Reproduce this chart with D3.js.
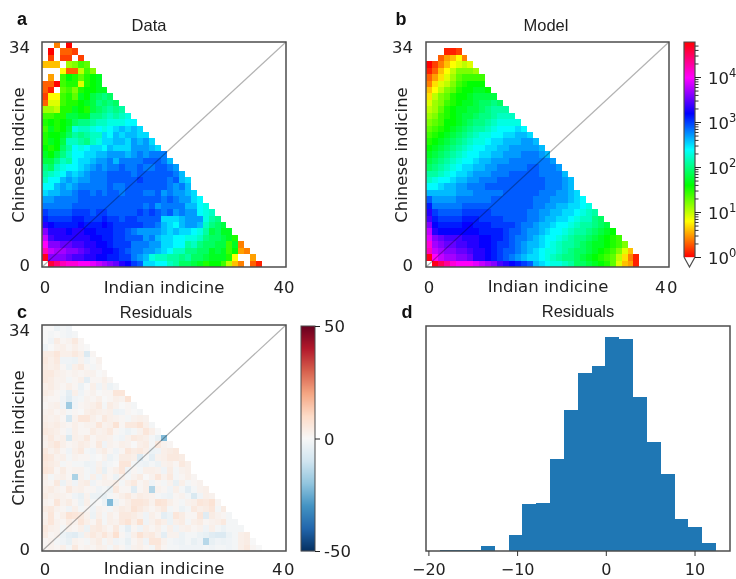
<!DOCTYPE html>
<html>
<head>
<meta charset="utf-8">
<script src="https://cdn.jsdelivr.net/npm/d3@7"></script>
<style>
  html, body { margin: 0; padding: 0; background: #fff; }
  svg { display: block; filter: blur(0.6px); }
  .tick-text { font-family: 'DejaVu Sans', sans-serif; font-size: 16.5px; fill: #222; }
  .hist-tick { font-family: 'DejaVu Sans', sans-serif; font-size: 16px; fill: #222; }
  .title { font-family: 'Liberation Sans', sans-serif; font-size: 16.5px; fill: #222; }
  .letter { font-family: 'Liberation Sans', sans-serif; font-size: 18px; font-weight: bold; fill: #111; }
</style>
</head>
<body>
<div id="chart"></div>
<script>
// rows run from the top of the plot (Chinese indicine 34) down to 0
// heat values are 10*log10(count), -1 means below the colour range (white)
const dataRows = [
  [-1,-1,4,-1,0],
  [-1,0,-1,3,3,2],
  [-1,2,-1,2,2,-1,2],
  [6,6,6,-1,11,12,14,13],
  [-1,-1,-1,8,3,3,10,14,12],
  [-1,5,-1,14,16,15,13,15,16,17],
  [3,3,0,14,15,15,9,15,16,17],
  [3,1,-1,13,14,12,15,16,16,17,17],
  [2,8,8,14,15,13,17,16,18,19,20,19],
  [3,9,9,14,15,15,16,17,18,20,19,20,19],
  [11,11,10,15,15,17,16,15,18,19,20,21,20,21],
  [14,14,15,15,18,18,17,17,20,20,21,22,21,22,23],
  [15,16,15,16,17,19,20,20,21,22,22,23,23,23,24,24],
  [14,17,15,16,18,23,22,22,23,24,23,24,25,26,25,26,25],
  [15,16,16,17,19,21,20,21,22,22,25,24,26,25,26,26,25,25],
  [15,17,16,18,22,22,21,20,22,23,25,25,26,26,25,27,26,27,25],
  [16,15,16,19,21,24,23,24,25,25,24,26,25,25,25,27,27,27,26,25],
  [17,16,18,20,22,24,24,25,25,26,26,27,27,27,26,27,28,27,28,28,28],
  [18,18,20,22,21,24,25,25,26,27,27,28,26,28,28,28,28,29,29,29,28,26],
  [20,19,22,23,24,24,25,26,27,28,27,28,28,29,28,28,29,28,28,29,29,28,27],
  [21,22,23,24,26,25,26,27,28,28,28,29,29,29,29,28,29,29,29,29,29,29,28,26],
  [22,24,24,26,27,26,27,27,28,28,28,29,29,29,29,29,30,29,29,29,29,28,29,26,25],
  [24,24,26,27,26,27,28,28,28,28,28,29,28,28,29,29,29,29,29,29,29,28,27,28,26],
  [25,26,26,27,27,28,29,29,28,29,28,29,29,28,29,29,29,28,28,29,27,28,27,27,26,25],
  [27,27,28,28,28,28,29,29,29,29,29,29,29,29,29,29,29,29,29,29,28,29,28,27,27,25,24],
  [28,28,28,28,28,29,29,29,29,29,29,29,29,29,29,29,29,28,29,27,28,28,28,28,26,26,24,23],
  [30,29,29,29,29,30,30,30,29,30,30,29,29,29,29,29,30,29,30,29,28,29,27,28,27,27,24,23,22],
  [31,30,30,30,30,31,31,30,30,30,31,30,30,29,30,30,29,29,29,29,25,25,25,26,27,27,27,23,21,20],
  [33,32,31,31,31,31,32,31,31,31,32,31,30,30,30,30,30,29,29,28,26,25,24,26,27,27,26,22,20,19,18],
  [36,33,33,33,32,33,33,32,32,31,31,31,30,30,29,28,27,27,27,27,26,25,26,25,25,24,23,21,18,19,17,17],
  [38,34,33,33,33,33,33,33,32,32,31,31,30,30,29,29,29,27,28,26,25,25,24,24,23,23,22,20,19,19,18,17,15],
  [40,36,36,35,35,34,34,33,33,32,32,31,30,30,30,28,28,28,27,27,25,25,24,24,21,22,20,19,19,18,18,14,17,4],
  [42,38,37,37,36,36,35,34,33,33,32,32,31,30,29,28,28,27,27,26,25,24,22,22,20,20,19,19,17,18,17,14,16,5,4],
  [47,36,36,36,35,34,34,33,33,32,32,31,31,30,30,28,27,26,23,22,22,21,21,20,21,19,19,18,17,17,17,15,8,-1,-1,5],
  [-1,46,44,42,41,41,40,40,39,38,37,36,35,33,32,30,29,25,25,24,24,22,21,19,19,18,17,15,16,16,14,10,6,4,-1,3,1]
];

const modelRows = [
  [],
  [-1,-1,-1,1,1,2],
  [-1,-1,3,5,6,8,4],
  [0,2,4,6,8,9,10,9],
  [1,3,6,8,10,12,12,12,11],
  [3,5,7,9,11,13,14,14,14,14],
  [4,7,9,10,12,14,15,16,16,16],
  [6,8,10,12,13,15,16,16,17,17,16],
  [7,10,12,13,15,16,16,17,18,18,18,18],
  [9,11,12,14,15,16,17,17,18,19,19,20,19],
  [10,11,13,15,16,17,17,18,18,19,20,21,21,21],
  [11,12,14,15,16,17,18,18,19,20,20,21,22,22,22],
  [12,13,14,16,16,17,18,19,20,20,21,22,23,23,23,23],
  [13,14,15,16,17,18,19,20,21,21,22,23,24,24,24,25,24],
  [14,15,16,17,18,19,20,21,22,23,23,24,24,25,25,26,26,25],
  [15,16,17,18,19,20,21,22,23,23,24,25,25,26,26,26,27,27,26],
  [16,17,18,19,20,21,22,23,24,24,25,25,26,26,27,27,27,27,27,26],
  [17,18,19,20,21,22,23,24,24,25,25,26,26,27,27,27,28,28,28,27,26],
  [18,19,20,21,22,23,24,24,25,26,26,27,27,27,28,28,28,28,28,28,28,27],
  [19,20,21,22,23,24,25,25,26,26,27,27,28,28,28,28,28,29,29,28,28,28,27],
  [21,21,22,23,24,25,25,26,27,27,27,28,28,28,29,29,29,29,29,28,28,28,28,26],
  [22,23,24,24,25,26,26,27,27,28,28,28,29,29,29,29,29,29,29,29,28,28,28,27,26],
  [24,24,25,26,26,27,27,28,28,28,29,29,29,29,29,29,29,29,29,29,28,28,28,27,26],
  [26,26,26,26,26,27,27,27,28,28,28,28,28,29,29,29,29,29,29,28,28,28,27,27,26,25],
  [29,27,27,27,27,28,28,28,28,28,28,29,29,29,29,29,29,29,28,28,28,27,27,27,26,25,24],
  [31,28,28,28,28,28,29,29,29,29,29,29,29,29,29,29,29,29,28,28,27,27,26,26,25,25,24,23],
  [33,30,29,29,29,29,30,30,30,30,30,29,29,29,29,29,29,28,28,27,27,26,26,25,25,24,23,22,21],
  [34,31,30,30,30,30,31,31,31,30,30,30,30,29,29,29,29,28,28,27,26,26,25,25,24,23,22,22,20,19],
  [36,32,31,31,31,31,32,32,31,31,31,30,30,30,30,29,28,28,27,26,26,25,24,24,23,22,21,21,20,19,18],
  [38,33,32,32,32,32,32,32,32,31,31,31,31,30,29,29,28,27,27,26,25,24,24,23,22,21,21,20,19,18,17,16],
  [39,36,35,34,34,34,33,33,33,32,32,31,31,30,29,28,28,27,26,25,24,24,23,22,21,20,20,19,18,17,16,15,14],
  [41,37,36,35,35,34,34,33,33,32,32,31,30,30,29,28,27,26,26,25,24,23,22,21,21,20,19,18,17,17,16,15,14,12],
  [42,38,37,36,36,35,35,34,33,33,32,31,30,29,29,28,27,26,25,24,23,23,22,21,20,19,19,18,17,16,15,14,12,9,6],
  [47,40,38,37,37,36,36,35,33,33,32,31,30,29,28,27,26,25,25,24,23,22,21,20,20,19,18,17,16,15,14,13,10,7,4,1],
  [-1,47,45,43,41,40,40,40,39,38,37,36,34,33,32,31,30,29,26,25,24,23,23,22,21,19,19,18,17,16,15,13,9,6,5,1]
];

const residualRows = [
  [0,0,-3,-1,-2],
  [0,-1,0,-1,-2,-1],
  [0,-2,4,1,2,5,1],
  [-2,0,2,3,1,3,1,0],
  [4,4,6,3,3,5,3,-7,1],
  [5,3,5,-2,-2,-3,2,-2,0,2],
  [4,3,4,1,-3,3,5,1,-1,1],
  [5,5,3,2,1,2,1,2,2,0,1],
  [5,4,2,2,-1,1,3,-5,1,1,3,1],
  [3,4,2,1,3,1,-3,0,3,-2,2,-3,-1],
  [4,3,1,-1,-5,3,-2,1,2,0,1,1,6,6],
  [2,1,1,-2,-6,-2,-1,2,1,3,0,1,3,2,7],
  [1,2,3,-2,-18,-2,1,2,3,5,-1,4,2,0,1,-1],
  [2,3,1,2,-1,1,0,3,4,3,2,3,-3,-2,1,0,-1],
  [3,2,3,1,-9,2,6,6,3,1,5,3,2,1,-1,2,3,2],
  [4,3,4,2,1,3,1,2,2,6,2,3,7,1,5,5,7,3,-1],
  [5,4,3,1,-2,3,1,1,4,2,3,5,1,-1,-3,-1,2,6,3,0],
  [3,5,2,3,-8,3,2,5,1,3,3,2,-1,-2,2,5,4,3,-1,-4,-22],
  [2,4,6,3,1,2,4,3,1,5,-2,2,1,3,2,0,3,4,-1,5,2,1],
  [5,2,4,1,-2,3,5,-1,-2,2,4,1,-2,1,6,4,5,3,-3,-2,3,4,5],
  [6,5,2,3,-1,2,1,1,-1,0,2,-3,-1,4,4,3,-7,-1,-5,2,3,5,5,4],
  [5,4,3,-1,1,-1,-1,-3,-2,2,-2,-1,0,6,6,-1,-2,-3,-1,-3,2,3,1,5,3],
  [6,5,1,4,1,2,2,-1,-2,3,-4,1,3,6,-2,1,-1,3,3,2,-2,4,-1,2,3],
  [3,-1,2,3,1,-16,2,-1,3,-2,3,1,-3,2,-1,2,4,0,2,6,2,5,-1,1,3,1],
  [2,1,5,-3,2,-2,3,4,-2,1,2,2,3,-1,3,5,1,3,-2,1,-1,2,-4,3,-1,1,2],
  [3,4,2,1,5,2,3,1,1,-2,-1,-3,5,1,1,-6,1,3,-15,2,1,-2,3,-1,-5,-1,2,3],
  [4,2,3,2,1,-2,-4,2,-3,-3,-4,-1,1,3,5,2,4,3,2,-1,-2,-3,1,2,-1,-8,-2,3,2],
  [2,1,6,2,4,1,-3,3,-1,0,-3,-22,-3,1,3,6,6,5,2,7,6,3,1,-1,2,3,6,5,7,1],
  [4,5,2,1,-2,3,-1,1,-2,2,1,-1,2,4,3,7,5,3,1,3,5,-1,1,-3,-1,5,3,4,6,-1,4],
  [2,6,1,3,7,6,5,2,-3,3,-1,3,1,5,5,4,2,-2,3,1,-5,-3,6,4,1,1,6,-6,4,2,1,-1],
  [3,6,2,1,4,2,6,3,1,5,-1,3,2,5,7,3,8,-2,2,5,3,-3,3,4,-1,3,4,1,2,3,5,-1,-1],
  [5,3,2,-1,2,1,3,-3,4,5,3,1,5,-1,-5,1,-2,3,1,3,-1,3,-2,2,3,1,2,-2,3,-1,-3,-1,-1,-1],
  [4,1,2,-3,-5,-6,-3,3,5,3,6,3,8,1,-2,3,7,4,5,2,-5,2,2,-3,-1,-1,-3,-4,-6,-7,-7,-3,-1,3,4],
  [1,2,-1,-2,-4,2,1,-1,2,4,-1,2,-2,-1,-4,1,3,-2,6,6,2,-1,-2,-3,-1,-4,-2,-14,-4,-2,-3,-2,-1,3,4,0],
  [1,2,1,3,-1,5,1,2,1,3,2,-1,3,1,-2,2,3,1,-1,5,1,-1,-1,-2,-2,-2,-2,-1,-2,-1,-1,-2,-1,3,5,1,0]
];

const histCounts = [1,1,1,4,0,12,35,36,69,106,134,139,161,159,116,82,58,24,18,6];
const histStart = -18.74;
const histStep = 1.558;
const histTicks = [-20,-10,0,10];
const sfsDecades = [0,1,2,3,4];
const sfsMax = 60000;
const residualTicks = [-50,0,50];
const residualStops = ['#053061','#2166ac','#4393c3','#92c5de','#d1e5f0','#f7f7f7','#fddbc7','#f4a582','#d6604d','#b2182b','#67001f'];

const width = 736;
const height = 579;
const frameColor = '#4d4d4d';

const svg = d3.select('#chart').append('svg')
  .attr('width', width)
  .attr('height', height);

const sfsColor = d3.scaleLog().domain([1, sfsMax]).range([0, 360]);
const hueFill = (hue) => d3.hsl(hue, 1, 0.5).formatHex();
const decilogFill = (d) => (d < 0 ? '#fff' : hueFill(sfsColor(Math.pow(10, d / 10))));
const residualColor = d3.scaleSequential(d3.piecewise(d3.interpolateRgb, residualStops)).domain([-50, 50]);

function drawHeatmap(box, rows, fill) {
  const x = d3.scaleLinear().domain([0, 41]).range([box.x0, box.x1]);
  const y = d3.scaleLinear().domain([0, 35]).range([box.y1, box.y0]);
  const cells = rows.flatMap((row, r) =>
    row.map((value, i) => ({ i, j: rows.length - 1 - r, value })));

  const g = svg.append('g');
  g.selectAll('rect')
    .data(cells)
    .enter()
    .append('rect')
    .attr('x', (d) => x(d.i))
    .attr('y', (d) => y(d.j + 1))
    .attr('width', x(1) - x(0))
    .attr('height', y(0) - y(1))
    .attr('shape-rendering', 'crispEdges')
    .attr('fill', (d) => fill(d.value));

  // diagonal runs corner to corner
  g.append('line')
    .attr('x1', x(0)).attr('y1', y(0))
    .attr('x2', x(41)).attr('y2', y(35))
    .attr('stroke', '#000')
    .attr('stroke-opacity', 0.3)
    .attr('stroke-width', 1.2);

  drawFrame(box);
}

function drawFrame(box) {
  svg.append('rect')
    .attr('x', box.x0)
    .attr('y', box.y0)
    .attr('width', box.x1 - box.x0)
    .attr('height', box.y1 - box.y0)
    .attr('fill', 'none')
    .attr('stroke', frameColor)
    .attr('stroke-width', 1.5);
}

function label(text, x, y, cls, opts = {}) {
  const t = svg.append('text')
    .attr('class', cls)
    .attr('x', x)
    .attr('y', y)
    .attr('text-anchor', opts.anchor || 'middle')
    .text(text);
  if (opts.rotate) t.attr('transform', `rotate(-90 ${x} ${y})`);
  if (opts.spacing) t.style('letter-spacing', opts.spacing);
  return t;
}

const boxA = { x0: 42, x1: 286, y0: 42, y1: 267 };
const boxB = { x0: 426, x1: 669, y0: 42, y1: 267 };
const boxC = { x0: 42, x1: 286, y0: 325, y1: 551 };
const boxD = { x0: 426, x1: 730, y0: 326, y1: 551 };

drawHeatmap(boxA, dataRows, decilogFill);
drawHeatmap(boxB, modelRows, decilogFill);
drawHeatmap(boxC, residualRows, (d) => residualColor(d));

// panel texts
label('a', 22, 25, 'letter');
label('b', 401, 25, 'letter');
label('c', 22, 318, 'letter');
label('d', 407, 318, 'letter');
label('Data', 149, 31, 'title');
label('Model', 546, 31, 'title');
label('Residuals', 156, 318, 'title');
label('Residuals', 578, 317, 'title');

label('34', 30, 53, 'tick-text', { anchor: 'end' });
label('0', 30, 271, 'tick-text', { anchor: 'end' });
label('0', 45, 293, 'tick-text');
label('40', 284, 293, 'tick-text');
label('Indian indicine', 164, 293, 'tick-text');
label('Chinese indicine', 24, 155, 'tick-text', { rotate: true });

label('34', 413, 53, 'tick-text', { anchor: 'end' });
label('0', 413, 271, 'tick-text', { anchor: 'end' });
label('0', 429, 293, 'tick-text');
label('40', 667, 293, 'tick-text', { spacing: '1.5px' });
label('Indian indicine', 548, 292, 'tick-text');
label('Chinese indicine', 407, 155, 'tick-text', { rotate: true });

label('34', 30, 336, 'tick-text', { anchor: 'end' });
label('0', 30, 555, 'tick-text', { anchor: 'end' });
label('0', 45, 574.5, 'tick-text');
label('40', 284, 574.5, 'tick-text', { spacing: '1.5px' });
label('Indian indicine', 164, 574, 'tick-text');
label('Chinese indicine', 24, 438, 'tick-text', { rotate: true });

// log colourbar for panels a and b
const cbarX0 = 684;
const cbarX1 = 695;
const cbarScale = d3.scaleLog().domain([1, sfsMax]).range([257, 42]);
svg.append('g').selectAll('rect')
  .data(d3.range(42, 257))
  .enter()
  .append('rect')
  .attr('x', cbarX0)
  .attr('y', (d) => d)
  .attr('width', cbarX1 - cbarX0)
  .attr('height', 1.2)
  .attr('fill', (d) => hueFill(sfsColor(cbarScale.invert(d + 0.5))));

svg.append('path')
  .attr('d', d3.line()([[cbarX0, 257], [cbarX0, 42], [cbarX1, 42], [cbarX1, 257], [(cbarX0 + cbarX1) / 2, 267], [cbarX0, 257]]))
  .attr('fill', 'none')
  .attr('stroke', frameColor)
  .attr('stroke-width', 1.2);

const minorValues = sfsDecades.flatMap((e) => d3.range(2, 10).map((m) => m * Math.pow(10, e)))
  .filter((v) => v < sfsMax);
svg.append('g')
  .attr('transform', `translate(${cbarX1},0)`)
  .call(d3.axisRight(cbarScale).tickValues(minorValues).tickSize(3.5).tickFormat(''))
  .call((g) => g.select('.domain').remove())
  .selectAll('line')
  .attr('stroke', '#333');
svg.append('g')
  .attr('transform', `translate(${cbarX1},0)`)
  .call(d3.axisRight(cbarScale).tickValues(sfsDecades.map((e) => Math.pow(10, e))).tickSize(6).tickFormat(''))
  .call((g) => g.select('.domain').remove())
  .selectAll('line')
  .attr('stroke', '#222');

sfsDecades.forEach((e) => {
  const t = label('10', 708, cbarScale(Math.pow(10, e)) + 7, 'tick-text', { anchor: 'start' });
  t.append('tspan')
    .attr('dy', -7)
    .style('font-size', '11.5px')
    .text(e);
});

// diverging colourbar for panel c
const residualBar = d3.scaleLinear().domain([-50, 50]).range([551, 326]);
svg.append('g').selectAll('rect')
  .data(d3.range(326, 551))
  .enter()
  .append('rect')
  .attr('x', 301)
  .attr('y', (d) => d)
  .attr('width', 14)
  .attr('height', 1.2)
  .attr('fill', (d) => residualColor(residualBar.invert(d + 0.5)));
svg.append('rect')
  .attr('x', 301).attr('y', 326)
  .attr('width', 14).attr('height', 225)
  .attr('fill', 'none')
  .attr('stroke', frameColor)
  .attr('stroke-width', 1);
svg.append('g')
  .attr('transform', 'translate(315,0)')
  .call(d3.axisRight(residualBar).tickValues(residualTicks).tickSize(5).tickFormat(''))
  .call((g) => g.select('.domain').remove())
  .selectAll('line')
  .attr('stroke', '#222');
residualTicks.forEach((v) => {
  label(v, 324, residualBar(v) + 6, 'tick-text', { anchor: 'start' });
});

// histogram, panel d
const histX = d3.scaleLinear().domain([-20.27, 14]).range([boxD.x0, boxD.x1]);
const histY = d3.scaleLinear().domain([0, 169]).range([boxD.y1, boxD.y0]);

svg.append('g').selectAll('rect')
  .data(histCounts)
  .enter()
  .append('rect')
  .attr('x', (d, i) => histX(histStart + i * histStep))
  .attr('y', (d) => histY(d))
  .attr('width', histX(histStep) - histX(0))
  .attr('height', (d) => histY(0) - histY(d))
  .attr('shape-rendering', 'crispEdges')
  .attr('fill', '#1f77b4');

drawFrame(boxD);

const histAxis = svg.append('g')
  .attr('transform', `translate(0,${boxD.y1})`)
  .call(d3.axisBottom(histX).tickValues(histTicks).tickSize(5).tickFormat(d3.format('d')));
histAxis.select('.domain').remove();
histAxis.selectAll('line').attr('stroke', '#333');
histAxis.selectAll('text')
  .attr('class', 'hist-tick')
  .attr('font-family', null)
  .attr('y', 12.5)
  .attr('fill', null)
  .text((d) => (d < 0 ? '\u2212' + Math.abs(d) : d));
</script>
</body>
</html>
